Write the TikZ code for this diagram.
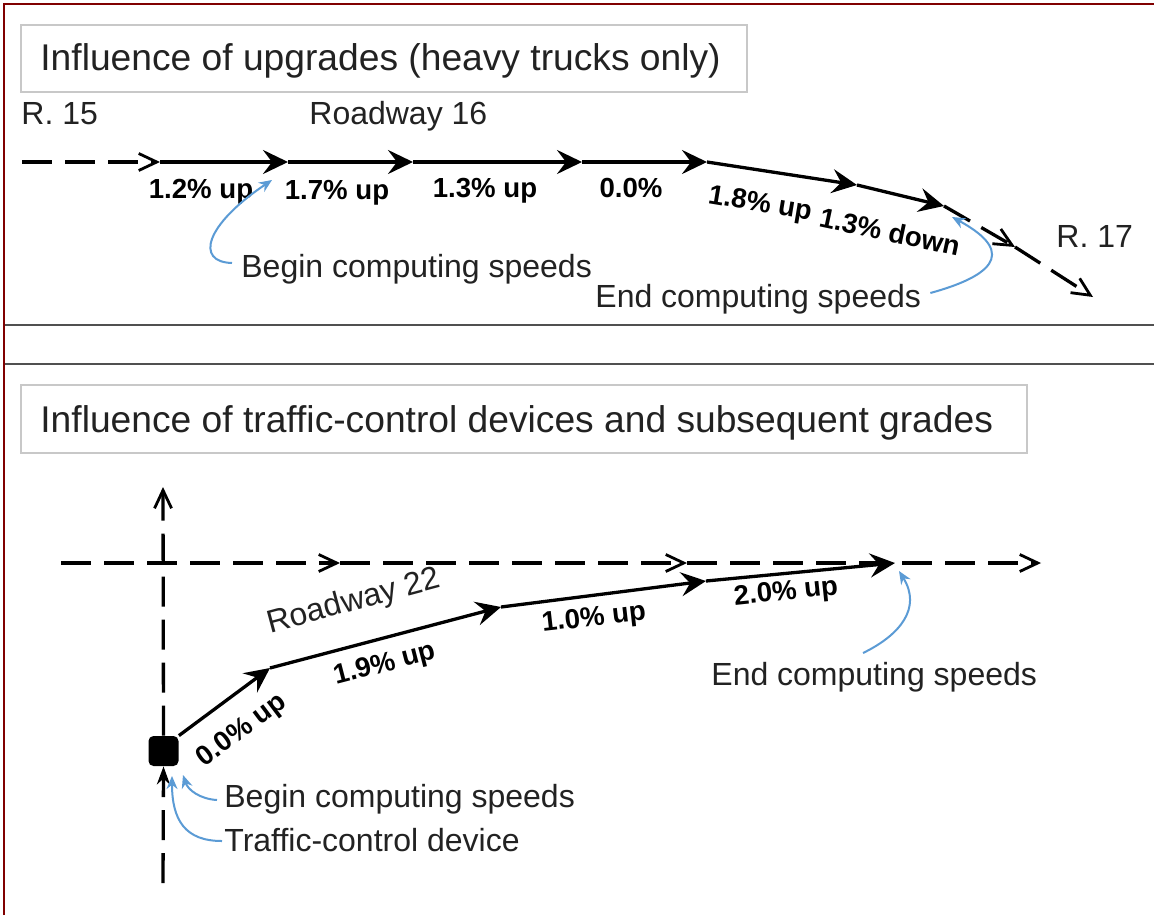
\documentclass[tikz,border=0pt]{standalone}
\usepackage{fontspec}
\setmainfont{Liberation Sans}
\usetikzlibrary{arrows.meta,calc}
\definecolor{framered}{HTML}{800000}
\definecolor{sepgray}{HTML}{505050}
\definecolor{boxgray}{HTML}{C8C8C8}
\definecolor{callout}{HTML}{5B9BD5}
\definecolor{ink}{HTML}{222222}
\tikzset{
  road/.style={line width=1.65pt, -{Stealth[length=12.5pt,width=12pt,inset=4.5pt]}},
  dashroad/.style={line width=1.65pt, dash pattern=on 15pt off 6.5pt, -{Straight Barb[length=9pt,width=8.5pt,line width=1.4pt]}},
  callarrow/.style={draw=callout, line width=1pt, -{Stealth[length=6.5pt,width=5.5pt]}},
  titlebox/.style={draw=boxgray, line width=1pt, inner sep=0pt, anchor=north west},
  titletext/.style={font=\fontsize{18.6}{22}\selectfont, text=ink, inner sep=0pt, anchor=base west},
  plain/.style={font=\fontsize{16}{19}\selectfont, text=ink, inner sep=0pt, anchor=base west},
  grade/.style={font=\bfseries\fontsize{13.8}{16}\selectfont, text=black, inner sep=0pt},
}
\begin{document}
\begin{tikzpicture}[x=0.5pt,y=-0.5pt]
\useasboundingbox (0,0) rectangle (1154,915);
\fill[white] (0,0) rectangle (1154,915);
% frame and separators
\draw[framered, line width=1.3pt] (4,915) -- (4,4) -- (1154,4);
\draw[sepgray, line width=1.2pt] (5,325) -- (1154,325);
\draw[sepgray, line width=1.2pt] (5,364) -- (1154,364);

% ---------- top panel ----------
\node[titlebox, minimum width=363pt, minimum height=33.5pt] (tb1) at (20,24) {};
\node[titletext] (tt1) at (40,70) {Influence of upgrades (heavy trucks only)};
\node[plain] (r15) at (21,124) {R. 15};
\node[plain] (rw16) at (309,124) {Roadway 16};
\node[plain] (r17) at (1056,247) {R. 17};

\coordinate (a0) at (22,162);
\coordinate (a1) at (160,162);
\coordinate (a2) at (288,162);
\coordinate (a3) at (413,162);
\coordinate (a4) at (582,162);
\coordinate (a5) at (707,162);
\coordinate (a6) at (857,185);
\coordinate (a7) at (944,206);
\coordinate (a8) at (1015,247);
\coordinate (a9) at (1093,297);
\draw[dashroad] (a0) -- (a1);
\draw[road] (a1) -- (a2);
\draw[road] (a2) -- (a3);
\draw[road] (a3) -- (a4);
\draw[road] (a4) -- (a5);
\draw[road] (a5) -- (a6);
\draw[road] (a6) -- (a7);
\draw[dashroad] (a7) -- (a8);
\draw[dashroad] (a8) -- (a9);

\node[grade, anchor=base] (g1) at (201,198) {1.2\% up};
\node[grade, anchor=base] (g2) at (337,199) {1.7\% up};
\node[grade, anchor=base] (g3) at (485,197) {1.3\% up};
\node[grade, anchor=base] (g4) at (631,197) {0.0\%};
\node[grade, rotate=-9.5] (g5) at (760,205) {1.8\% up};
\node[grade, rotate=-12] (g6) at (890,232) {1.3\% down};

\node[plain] (beg1) at (241,277) {Begin computing speeds};
\node[plain] (end1) at (595,307) {End computing speeds};
\coordinate (beg1tip) at (272,180);
\coordinate (end1tip) at (952,217);
\draw[callarrow] ($(beg1.base west)+(-9,-14)$) .. controls (195,262) and (205,225) .. (beg1tip);
\draw[callarrow] ($(end1.base east)+(9,-14)$) .. controls (985,278) and (1022,255) .. (end1tip);

% ---------- bottom panel ----------
\node[titlebox, minimum width=503pt, minimum height=34pt] (tb2) at (20,384) {};
\node[titletext] (tt2) at (40,432) {Influence of traffic-control devices and subsequent grades};

\node[fill=black, rounded corners=2.5pt, minimum size=15pt, inner sep=0pt] (tcd) at (163.5,751) {};
\coordinate (v0) at (163,883);
\coordinate (vtop) at (163,487);
\draw[dashroad, -{Stealth[length=9pt,width=6.5pt]}] (v0) -- (tcd.south);
\draw[dashroad] (tcd.north) -- (vtop);

\coordinate (h0) at (61,563);
\coordinate (h1) at (340,563);
\coordinate (h2) at (687,563);
\coordinate (h3) at (1041,563);
\draw[dashroad] (h0) -- (h1);
\draw[dashroad] (h1) -- (h2);
\draw[dashroad] (h2) -- (h3);

\coordinate (b1) at (270,668);
\coordinate (b2) at (501,607);
\coordinate (b3) at (706,581);
\coordinate (b4) at (895,563);
\draw[road] (tcd.north east) -- (b1);
\draw[road] (b1) -- (b2);
\draw[road] (b2) -- (b3);
\draw[road] (b3) -- (b4);

\node[grade, rotate=37] (k1) at (242,731) {0.0\% up};
\node[grade, rotate=14.5] (k2) at (385,665) {1.9\% up};
\node[grade, rotate=6.5] (k3) at (594,619) {1.0\% up};
\node[grade, rotate=6] (k4) at (786,593) {2.0\% up};
\node[font=\fontsize{16}{19}\selectfont, text=ink, inner sep=0pt, rotate=15] (rw22) at (354,602) {Roadway 22};

\node[plain] (end2) at (711,685) {End computing speeds};
\node[plain] (beg2) at (224,807) {Begin computing speeds};
\node[plain] (tcdl) at (224,851) {Traffic-control device};
\coordinate (end2tip) at (899,571);
\coordinate (beg2tip) at (183,775);
\coordinate (tcdtip) at (172,776);
\draw[callarrow] ($(end2.base west)+(152,-32)$) .. controls (900,635) and (922,608) .. (end2tip);
\draw[callarrow] ($(beg2.base west)+(-7,-7)$) .. controls (200,799) and (188,790) .. (beg2tip);
\draw[callarrow] ($(tcdl.base west)+(-2,-10)$) .. controls (185,841) and (172,820) .. (tcdtip);
\end{tikzpicture}
\end{document}
